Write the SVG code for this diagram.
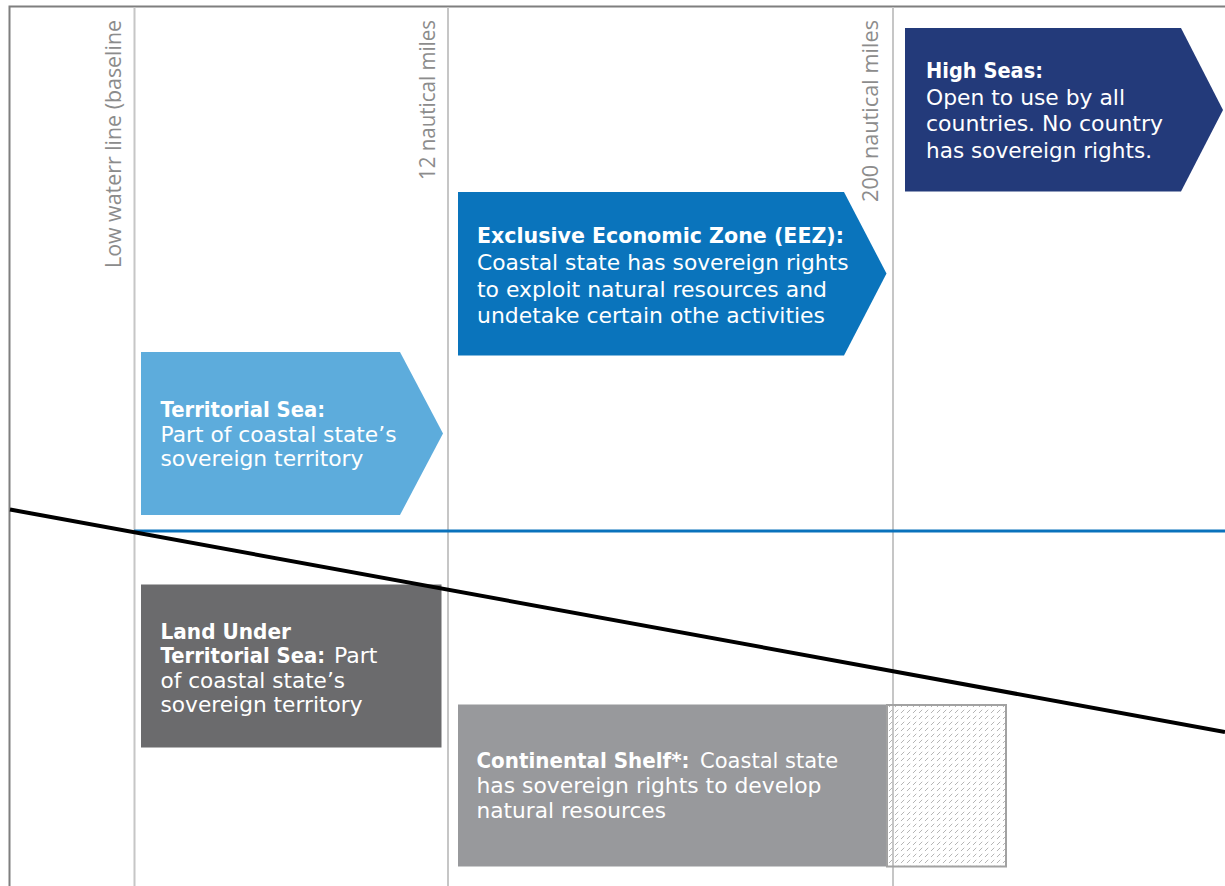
<svg xmlns="http://www.w3.org/2000/svg" width="1225" height="886" viewBox="0 0 1225 886">
  <style>
    .t { font-family: "DejaVu Sans", "Open Sans", sans-serif; font-size: 20.5px; fill: #ffffff; }
    .b { font-weight: 700; }
    .axis { font-family: "Open Sans", "Liberation Sans", sans-serif; font-weight: 400; font-size: 21px; fill: #8c8c8c; }
    .grid { stroke: #c6c6c6; stroke-width: 2; fill: none; }
  </style>
  <defs>
    <!-- dashed diagonal hatch for the outer continental shelf -->
    <pattern id="hatch" width="6" height="6" patternUnits="userSpaceOnUse">
      <path d="M1.2,4.8 L4,2" stroke="#b4b4b4" stroke-width="1" stroke-linecap="round"/>
    </pattern>
  </defs>

  <rect width="1225" height="886" fill="#ffffff"/>

  <!-- frame and distance markers -->
  <g id="frame">
    <path d="M9.5,886 V6.5 H1225" stroke="#7f7f7f" stroke-width="2" fill="none"/>
    <line class="grid" x1="134.5" y1="7" x2="134.5" y2="886"/>
    <line class="grid" x1="448" y1="7" x2="448" y2="886"/>
    <line class="grid" x1="893" y1="7" x2="893" y2="886"/>
  </g>

  <g id="marker-labels">
    <text class="axis" text-anchor="end" textLength="248" lengthAdjust="spacingAndGlyphs" transform="translate(121,20) rotate(-90)">Low waterr line (baseline</text>
    <text class="axis" text-anchor="end" textLength="160" lengthAdjust="spacingAndGlyphs" transform="translate(435,20) rotate(-90)">12 nautical miles</text>
    <text class="axis" text-anchor="end" textLength="182" lengthAdjust="spacingAndGlyphs" transform="translate(878,20) rotate(-90)">200 nautical miles</text>
  </g>

  <!-- water zones -->
  <g id="high-seas">
    <polygon points="905,28 1181,28 1223,110 1181,191.5 905,191.5" fill="#233a7a"/>
    <text class="t b" x="926" y="78" textLength="117" lengthAdjust="spacingAndGlyphs">High Seas:</text>
    <text class="t" x="926" y="104.5" textLength="199" lengthAdjust="spacingAndGlyphs">Open to use by all</text>
    <text class="t" x="926" y="131" textLength="237" lengthAdjust="spacingAndGlyphs">countries. No country</text>
    <text class="t" x="926" y="157.5" textLength="226" lengthAdjust="spacingAndGlyphs">has sovereign rights.</text>
  </g>

  <g id="eez">
    <polygon points="458,192 844,192 886.5,273.5 844,355.5 458,355.5" fill="#0a74bc"/>
    <text class="t b" x="477" y="242.5" textLength="367" lengthAdjust="spacingAndGlyphs">Exclusive Economic Zone (EEZ):</text>
    <text class="t" x="477" y="269.5" textLength="371.5" lengthAdjust="spacingAndGlyphs">Coastal state has sovereign rights</text>
    <text class="t" x="477" y="296.5" textLength="350" lengthAdjust="spacingAndGlyphs">to exploit natural resources and</text>
    <text class="t" x="477" y="322.5" textLength="348" lengthAdjust="spacingAndGlyphs">undetake certain othe activities</text>
  </g>

  <g id="territorial-sea">
    <polygon points="141,352 400,352 443,433.5 400,515 141,515" fill="#5dacdc"/>
    <text class="t b" x="160.5" y="417" textLength="164.5" lengthAdjust="spacingAndGlyphs">Territorial Sea:</text>
    <text class="t" x="160.5" y="441.5" textLength="236" lengthAdjust="spacingAndGlyphs">Part of coastal state’s</text>
    <text class="t" x="160.5" y="466" textLength="203" lengthAdjust="spacingAndGlyphs">sovereign territory</text>
  </g>

  <!-- sea bed zones -->
  <g id="land-under-territorial-sea">
    <rect x="141" y="584.5" width="300.5" height="163" fill="#6b6b6d"/>
    <text class="t b" x="160.5" y="638.5" textLength="130.5" lengthAdjust="spacingAndGlyphs">Land Under</text>
    <text class="t b" x="160.5" y="663" textLength="164.5" lengthAdjust="spacingAndGlyphs">Territorial Sea:</text>
    <text class="t" x="334" y="663" textLength="43.5" lengthAdjust="spacingAndGlyphs">Part</text>
    <text class="t" x="160.5" y="687.5" textLength="184.5" lengthAdjust="spacingAndGlyphs">of coastal state’s</text>
    <text class="t" x="160.5" y="712" textLength="202" lengthAdjust="spacingAndGlyphs">sovereign territory</text>
  </g>

  <g id="continental-shelf">
    <rect x="458" y="704.5" width="429" height="162" fill="#98999c"/>
    <rect x="887" y="705" width="119" height="161.5" fill="url(#hatch)" stroke="#a2a2a2" stroke-width="2"/>
    <text class="t b" x="476.5" y="767.5" textLength="213" lengthAdjust="spacingAndGlyphs">Continental Shelf*:</text>
    <text class="t" x="700" y="767.5" textLength="138.3" lengthAdjust="spacingAndGlyphs">Coastal state</text>
    <text class="t" x="476.5" y="792.5" textLength="345" lengthAdjust="spacingAndGlyphs">has sovereign rights to develop</text>
    <text class="t" x="476.5" y="817.5" textLength="189.5" lengthAdjust="spacingAndGlyphs">natural resources</text>
  </g>

  <!-- sea surface and sea bed -->
  <g id="connectors">
    <line x1="134" y1="531" x2="1225" y2="531" stroke="#0a72bc" stroke-width="3"/>
    <line x1="10" y1="509.5" x2="1225" y2="732" stroke="#000000" stroke-width="4"/>
  </g>
</svg>
